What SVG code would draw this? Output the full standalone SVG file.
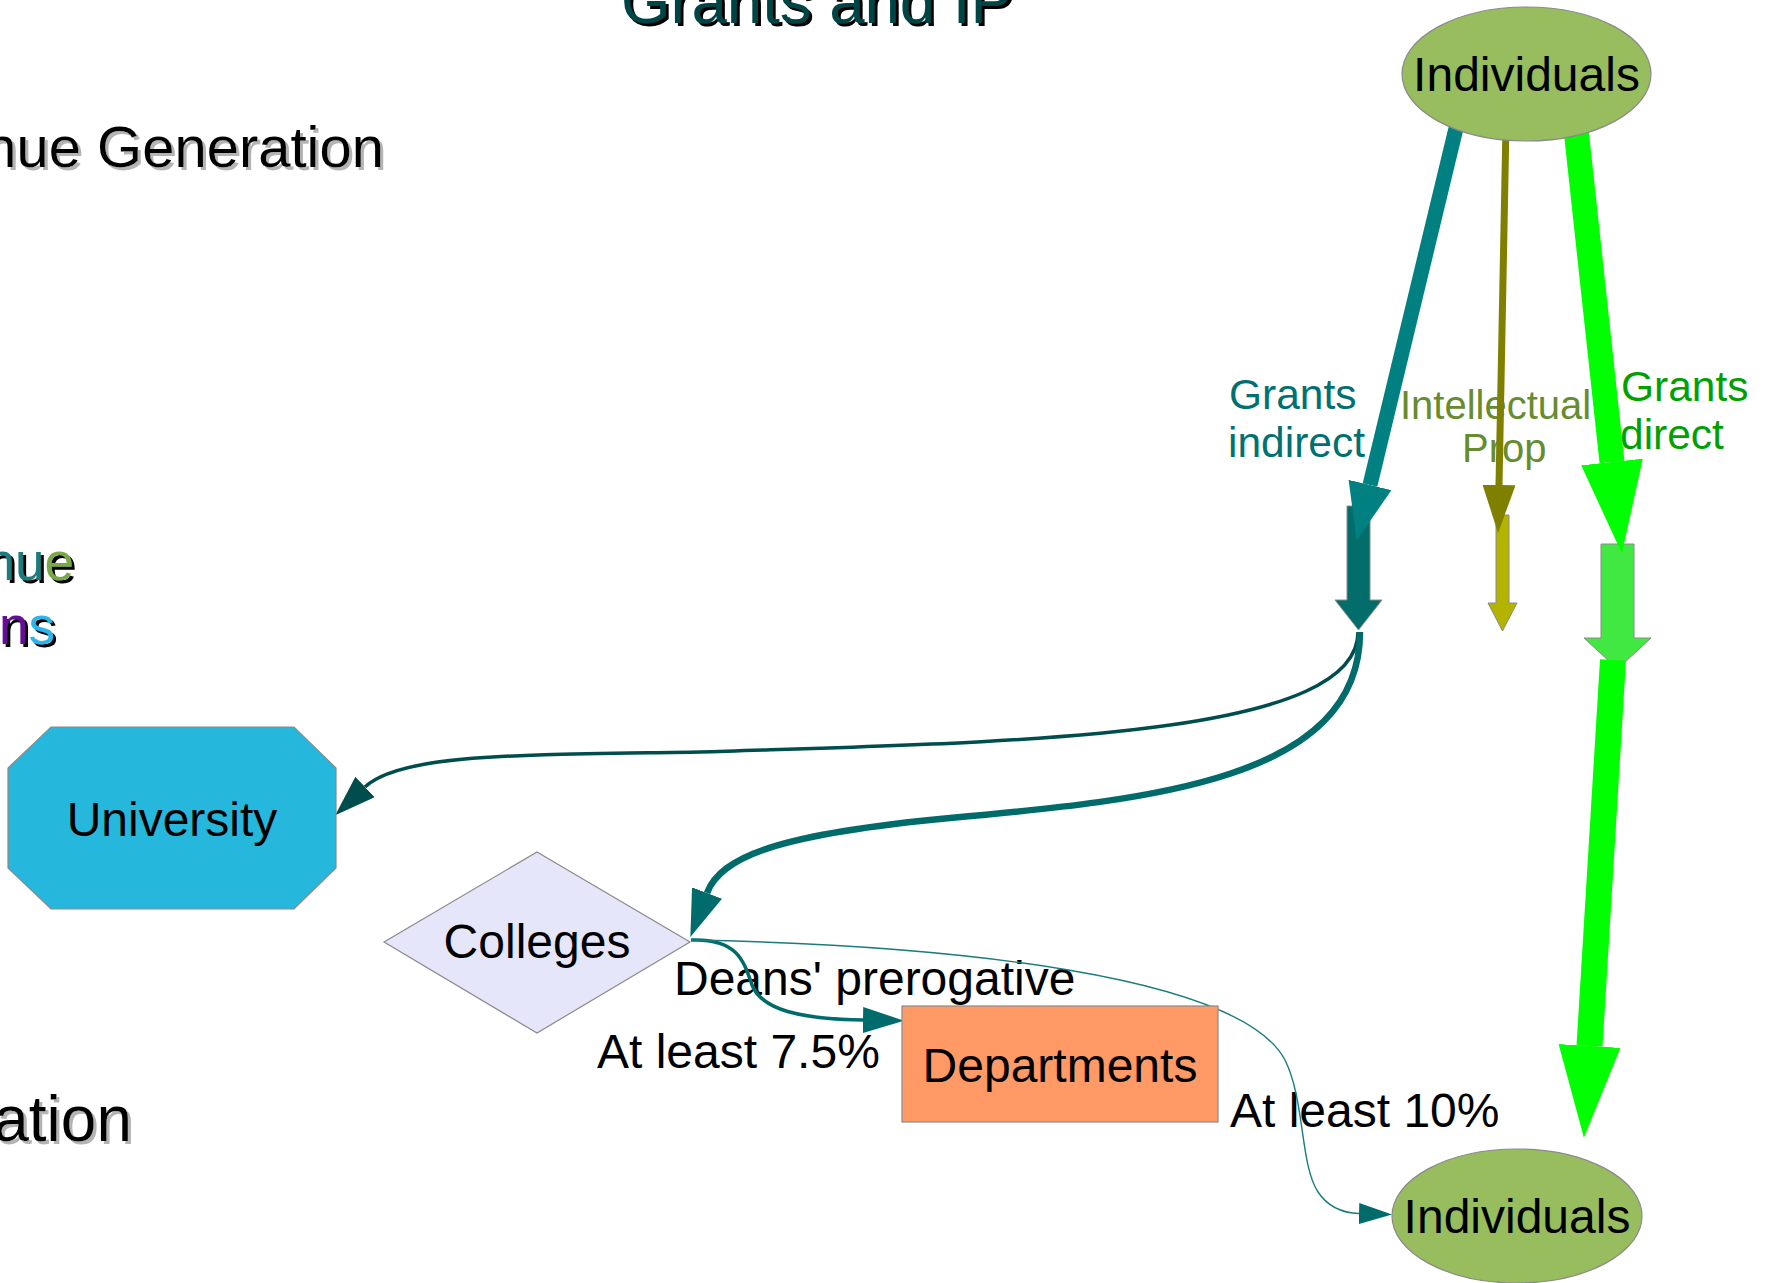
<svg xmlns="http://www.w3.org/2000/svg" width="1772" height="1283" viewBox="0 0 1772 1283">
  <style>
    text { font-family: "Liberation Sans", Arial, sans-serif; }
    .heading { fill: #000; }
    .node-label { font-size: 48px; fill: #000; text-anchor: middle; }
    .edge-label { font-size: 48px; fill: #000; }
    .flow-label { font-size: 42.5px; }
    .node-shape { stroke: #8a8a8a; stroke-width: 1.2; }
    .block { stroke: #8a8a8a; stroke-width: 1; }
    .edge { fill: none; }
  </style>
  <defs>
    <filter id="shadow-dark" x="-5%" y="-20%" width="115%" height="150%">
      <feOffset in="SourceAlpha" dx="3" dy="3" result="off"/>
      <feFlood flood-color="#000"/>
      <feComposite in2="off" operator="in" result="sh"/>
      <feMerge><feMergeNode in="sh"/><feMergeNode in="SourceGraphic"/></feMerge>
    </filter>
    <filter id="shadow-light" x="-5%" y="-20%" width="115%" height="150%">
      <feOffset in="SourceAlpha" dx="3" dy="3" result="off"/>
      <feFlood flood-color="#b4b4b4"/>
      <feComposite in2="off" operator="in" result="sh"/>
      <feMerge><feMergeNode in="sh"/><feMergeNode in="SourceGraphic"/></feMerge>
    </filter>
    <!-- arrowheads: base at the path end, tip pointing forward -->
    <marker id="head-teal-big" markerUnits="userSpaceOnUse" orient="auto" markerWidth="57" markerHeight="44" refX="0" refY="22">
      <path d="M0,0 L57,22 L0,44 z" fill="#008080"/>
    </marker>
    <marker id="head-olive" markerUnits="userSpaceOnUse" orient="auto" markerWidth="48" markerHeight="33" refX="0" refY="16.5">
      <path d="M0,0 L48,16.5 L0,33 z" fill="#808000"/>
    </marker>
    <marker id="head-green" markerUnits="userSpaceOnUse" orient="auto" markerWidth="92" markerHeight="62" refX="0" refY="31">
      <path d="M0,0 L92,31 L0,62 z" fill="#00ff00"/>
    </marker>
    <marker id="head-univ" markerUnits="userSpaceOnUse" orient="auto" markerWidth="41" markerHeight="28" refX="0" refY="14">
      <path d="M0,0 L41,14 L0,28 z" fill="#004d4d"/>
    </marker>
    <marker id="head-coll" markerUnits="userSpaceOnUse" orient="auto" markerWidth="47" markerHeight="32" refX="0" refY="16">
      <path d="M0,0 L47,16 L0,32 z" fill="#006b6b"/>
    </marker>
    <marker id="head-dept" markerUnits="userSpaceOnUse" orient="auto" markerWidth="41" markerHeight="26" refX="0" refY="13">
      <path d="M0,0 L41,13 L0,26 z" fill="#006b6b"/>
    </marker>
    <marker id="head-indiv" markerUnits="userSpaceOnUse" orient="auto" markerWidth="33" markerHeight="21" refX="0" refY="10.5">
      <path d="M0,0 L33,10.5 L0,21 z" fill="#006b6b"/>
    </marker>
  </defs>

  <rect x="0" y="0" width="1772" height="1283" fill="#ffffff"/>

  <!-- slide headings (partly outside the page) -->
  <g id="headings">
    <text x="621" y="23" font-size="63.5" fill="#004545" filter="url(#shadow-dark)">Grants and IP</text>
    <text class="heading" x="384" y="167" font-size="58" text-anchor="end" filter="url(#shadow-light)">nue Generation</text>
    <text x="74" y="580" font-size="53" text-anchor="end" filter="url(#shadow-dark)"><tspan fill="#1b7c7c">nu</tspan><tspan fill="#78a848">e</tspan></text>
    <text x="55" y="644" font-size="53" text-anchor="end" filter="url(#shadow-dark)"><tspan fill="#650d94">n</tspan><tspan fill="#2cb6ea">s</tspan></text>
    <text class="heading" x="132" y="1141" font-size="64" text-anchor="end" filter="url(#shadow-light)">ation</text>
  </g>

  <!-- block arrows marking each funding stream -->
  <g id="stream-indirect">
    <polygon class="block" fill="#036d6b" points="1347,506 1370,506 1370,600 1382,600 1358.5,630 1335,600 1347,600"/>
  </g>
  <g id="stream-ip">
    <polygon class="block" fill="#b3b300" points="1496,515 1509,515 1509,603 1517,603 1502.5,631 1488,603 1496,603"/>
  </g>
  <g id="stream-direct">
    <polygon class="block" fill="#42e842" points="1601,544 1634,544 1634,638 1651,638 1617.5,669 1584,638 1601,638"/>
  </g>

  <!-- connectors and their labels -->
  <g id="connectors">
    <text class="flow-label" fill="#007070" x="1229" y="409">Grants</text>
    <text class="flow-label" fill="#007070" x="1228" y="457">indirect</text>
    <text font-size="40" fill="#668c2e" x="1400" y="419">Intellectual</text>
    <text font-size="40" fill="#668c2e" x="1462" y="462">Prop</text>
    <text class="flow-label" fill="#00a000" x="1621" y="401">Grants</text>
    <text class="flow-label" fill="#00a000" x="1620" y="449">direct</text>
    <text class="edge-label" x="674" y="995">Deans' prerogative</text>
    <text class="edge-label" x="597" y="1068">At least 7.5%</text>
    <text class="edge-label" x="1230" y="1127">At least 10%</text>

    <line class="edge" x1="1458" y1="120" x2="1370" y2="485" stroke="#008080" stroke-width="15" marker-end="url(#head-teal-big)"/>
    <line class="edge" x1="1506" y1="125" x2="1499" y2="485" stroke="#808000" stroke-width="7" marker-end="url(#head-olive)"/>
    <line class="edge" x1="1575" y1="120" x2="1612" y2="462" stroke="#00ff00" stroke-width="25" marker-end="url(#head-green)"/>
    <line class="edge" x1="1613" y1="660" x2="1589.5" y2="1046" stroke="#00ff00" stroke-width="26" marker-end="url(#head-green)"/>

    <path class="edge" d="M1358,632 C1358,740 1000,742 700,752 C520,755 401,753 365,787" stroke="#004d4d" stroke-width="3.5" marker-end="url(#head-univ)"/>
    <path class="edge" d="M1360,632 C1360,780 1150,800 950,818 C780,834 721,856 707,893" stroke="#006b6b" stroke-width="6.5" marker-end="url(#head-coll)"/>
    <path class="edge" d="M691,940 C738,938 744,962 752,985 C762,1010 800,1019 863,1020" stroke="#006b6b" stroke-width="3.5" marker-end="url(#head-dept)"/>
    <path class="edge" d="M691,940 C950,945 1240,975 1285,1060 C1305,1100 1300,1165 1318,1192 C1328,1207 1342,1213 1359,1213.5" stroke="#1a7c7c" stroke-width="1.4" marker-end="url(#head-indiv)"/>
  </g>

  <g id="individuals-top">
    <ellipse class="node-shape" cx="1526.5" cy="74" rx="124.5" ry="67" fill="#97bd5f"/>
    <text class="node-label" x="1526.5" y="91">Individuals</text>
  </g>

  <g id="university">
    <polygon class="node-shape" fill="#25b7dc" points="51,727 294,727 336,768 336,868 294,909 51,909 8,868 8,768"/>
    <text class="node-label" x="172" y="836">University</text>
  </g>

  <g id="colleges">
    <polygon class="node-shape" fill="#e6e6fb" points="537,852 690,942 537,1033 384,942"/>
    <text class="node-label" x="537" y="958">Colleges</text>
  </g>

  <g id="departments">
    <rect class="node-shape" x="902" y="1006" width="316" height="116" fill="#ff9966"/>
    <text class="node-label" x="1060" y="1082">Departments</text>
  </g>

  <g id="individuals-bottom">
    <ellipse class="node-shape" cx="1517" cy="1216" rx="125" ry="67" fill="#97bd5f"/>
    <text class="node-label" x="1517" y="1233">Individuals</text>
  </g>
</svg>
